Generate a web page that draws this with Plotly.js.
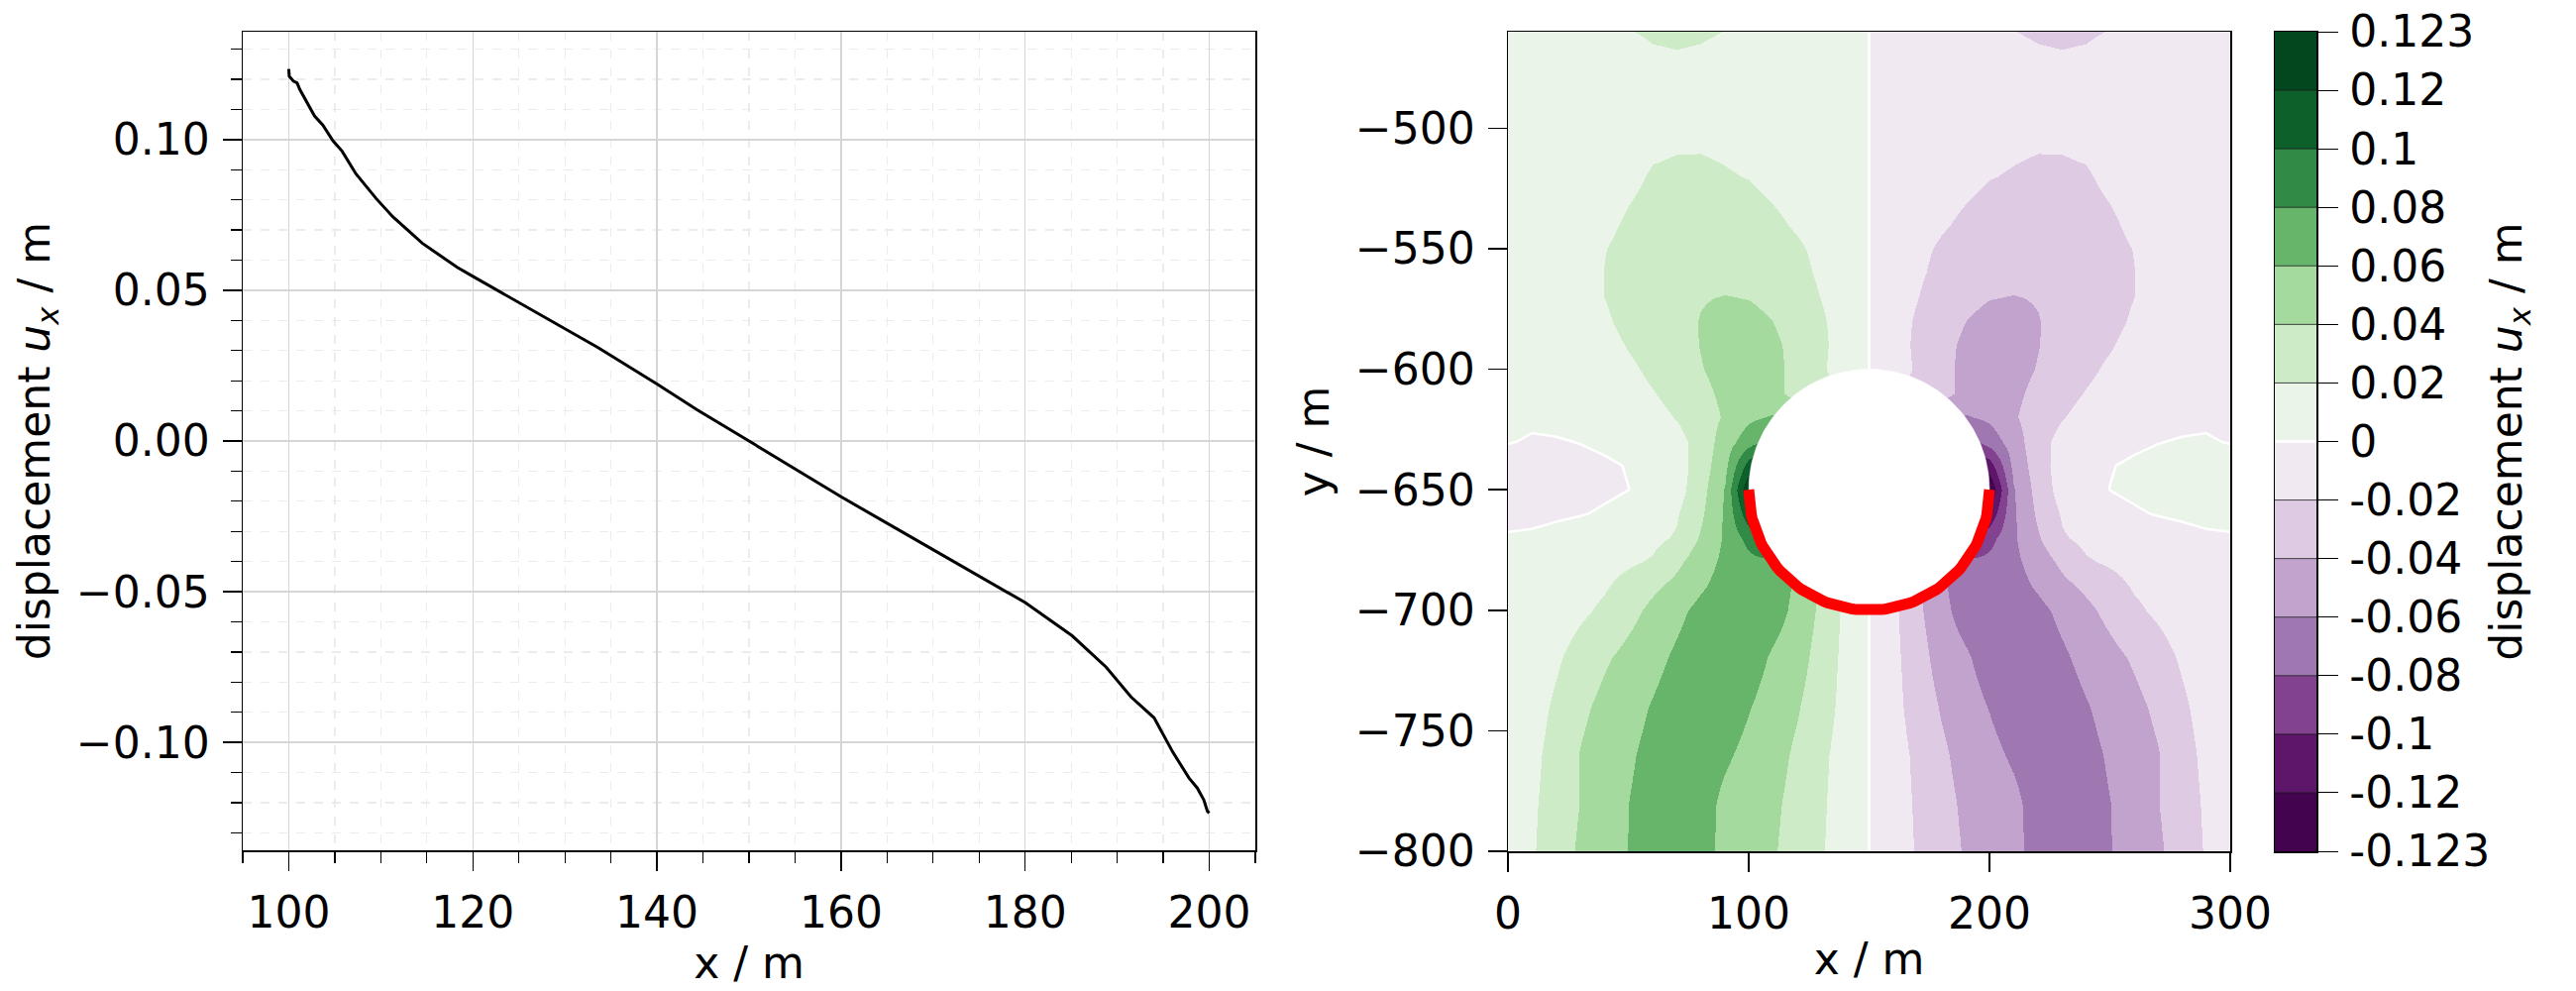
<!DOCTYPE html>
<html><head><meta charset="utf-8">
<script src="https://cdn.plot.ly/plotly-3.0.1.min.js"></script>
<style>html,body{margin:0;padding:0;background:#fff}</style>
</head><body><div id="chart" style="width:2600px;height:1000px"></div>
<script>
// ---- left panel: displacement along the tunnel floor ----
const lineX = [100, 100.05, 100.5, 100.9, 101.2, 101.8, 102.8, 103.7, 104.8, 105.8, 107.3, 109.5, 111.3, 114.5, 118.3, 120, 122.8, 127.8, 133.6, 140, 144.4, 150, 155, 160, 166.1, 170, 177.9, 180, 185.1, 188.8, 191.5, 194, 196, 197.8, 198.7, 199.4, 199.8, 200];
const lineUx = [0.1234, 0.121, 0.1194, 0.1188, 0.1166, 0.1133, 0.1078, 0.1048, 0.0996, 0.0961, 0.0886, 0.0804, 0.0744, 0.0656, 0.0576, 0.0546, 0.0497, 0.0409, 0.031, 0.0189, 0.0103, 0.0, -0.0092, -0.0185, -0.0292, -0.036, -0.0497, -0.0536, -0.0646, -0.075, -0.0849, -0.0918, -0.103, -0.1118, -0.1151, -0.119, -0.1228, -0.1234];

// ---- right panel: displacement field u_x(x, y) ----
const gridX = [0,10,20,30,40,50,60,70,80,90,100,110,120,130,140,150,160,170,180,190,200,210,220,230,240,250,260,270,280,290,300];
const gridY = [-800,-780,-760,-740,-720,-700,-690,-680,-670,-660,-650,-640,-630,-620,-610,-600,-590,-580,-570,-560,-550,-540,-520,-500,-480,-460];
const gridUx = [
[0.005,0.018,0.031,0.043,0.052,0.0605,0.068,0.072,0.068,0.054,0.048,0.0418,0.032,0.0215,0.011,0,-0.011,-0.0215,-0.032,-0.0418,-0.048,-0.054,-0.068,-0.072,-0.068,-0.0605,-0.052,-0.043,-0.031,-0.018,-0.005],
[0.005,0.017,0.029,0.0405,0.051,0.0601,0.068,0.073,0.069,0.055,0.049,0.0435,0.034,0.0225,0.0115,0,-0.0115,-0.0225,-0.034,-0.0435,-0.049,-0.055,-0.069,-0.073,-0.068,-0.0601,-0.051,-0.0405,-0.029,-0.017,-0.005],
[0.004,0.015,0.0275,0.041,0.05,0.0575,0.066,0.072,0.072,0.063,0.054,0.047,0.0365,0.024,0.012,0,-0.012,-0.024,-0.0365,-0.047,-0.054,-0.063,-0.072,-0.072,-0.066,-0.0575,-0.05,-0.041,-0.0275,-0.015,-0.004],
[0.003,0.012,0.0235,0.036,0.045,0.053,0.0615,0.07,0.075,0.072,0.061,0.051,0.0415,0.0285,0.014,0,-0.014,-0.0285,-0.0415,-0.051,-0.061,-0.072,-0.075,-0.07,-0.0615,-0.053,-0.045,-0.036,-0.0235,-0.012,-0.003],
[0.002,0.009,0.0175,0.028,0.0375,0.046,0.054,0.0635,0.072,0.076,0.07,0.057,0.048,0.0315,0.015,0,-0.015,-0.0315,-0.048,-0.057,-0.07,-0.076,-0.072,-0.0635,-0.054,-0.046,-0.0375,-0.028,-0.0175,-0.009,-0.002],
[0.002,0.005,0.01,0.0165,0.0235,0.034,0.045,0.055,0.0655,0.073,0.076,0.069,0.054,0.0355,0.016,0,-0.016,-0.0355,-0.054,-0.069,-0.076,-0.073,-0.0655,-0.055,-0.045,-0.034,-0.0235,-0.0165,-0.01,-0.005,-0.002],
[0.001,0.004,0.008,0.013,0.018,0.0265,0.036,0.0455,0.057,0.068,0.077,0.072,0.056,0.035,0.017,0,-0.017,-0.035,-0.056,-0.072,-0.077,-0.068,-0.057,-0.0455,-0.036,-0.0265,-0.018,-0.013,-0.008,-0.004,-0.001],
[0.001,0.002,0.005,0.009,0.0135,0.0175,0.022,0.0355,0.051,0.0645,0.074,0.075,0.056,0.036,0.018,0,-0.018,-0.036,-0.056,-0.075,-0.074,-0.0645,-0.051,-0.0355,-0.022,-0.0175,-0.0135,-0.009,-0.005,-0.002,-0.001],
[0.001,0.0015,0.003,0.005,0.008,0.011,0.0155,0.022,0.042,0.063,0.087,0.115,0.065,0.037,0.018,0,-0.018,-0.037,-0.065,-0.115,-0.087,-0.063,-0.042,-0.022,-0.0155,-0.011,-0.008,-0.005,-0.003,-0.0015,-0.001],
[-0.003,-0.0025,-0.0015,-0.0005,0.001,0.0045,0.009,0.018,0.036,0.063,0.115,0.135,0.08,0.045,0.02,0,-0.02,-0.045,-0.08,-0.135,-0.115,-0.063,-0.036,-0.018,-0.009,-0.0045,-0.001,0.0005,0.0015,0.0025,0.003],
[-0.005,-0.0045,-0.004,-0.003,-0.0015,-0.0001,0.004,0.012,0.032,0.0615,0.1234,0.14,0.1,0.06,0.03,0,-0.03,-0.06,-0.1,-0.14,-0.1234,-0.0615,-0.032,-0.012,-0.004,0.0001,0.0015,0.003,0.004,0.0045,0.005],
[-0.0045,-0.004,-0.0035,-0.0025,-0.0015,0.0005,0.0045,0.011,0.029,0.055,0.11,0.135,0.095,0.06,0.03,0,-0.03,-0.06,-0.095,-0.135,-0.11,-0.055,-0.029,-0.011,-0.0045,-0.0005,0.0015,0.0025,0.0035,0.004,0.0045],
[0.0005,-0.0008,-0.0006,0.0003,0.002,0.004,0.0075,0.0135,0.027,0.05,0.072,0.09,0.07,0.05,0.025,0,-0.025,-0.05,-0.07,-0.09,-0.072,-0.05,-0.027,-0.0135,-0.0075,-0.004,-0.002,-0.0003,0.0006,0.0008,-0.0005],
[0.001,0.0015,0.0025,0.004,0.006,0.009,0.0135,0.021,0.031,0.042,0.056,0.062,0.05,0.04,0.02,0,-0.02,-0.04,-0.05,-0.062,-0.056,-0.042,-0.031,-0.021,-0.0135,-0.009,-0.006,-0.004,-0.0025,-0.0015,-0.001],
[0.0015,0.002,0.003,0.005,0.008,0.0125,0.019,0.0265,0.035,0.044,0.049,0.044,0.035,0.03,0.015,0,-0.015,-0.03,-0.035,-0.044,-0.049,-0.044,-0.035,-0.0265,-0.019,-0.0125,-0.008,-0.005,-0.003,-0.002,-0.0015],
[0.002,0.0025,0.004,0.0065,0.011,0.0165,0.024,0.031,0.039,0.046,0.049,0.0445,0.035,0.0225,0.011,0,-0.011,-0.0225,-0.035,-0.0445,-0.049,-0.046,-0.039,-0.031,-0.024,-0.0165,-0.011,-0.0065,-0.004,-0.0025,-0.002],
[0.002,0.003,0.005,0.008,0.013,0.0215,0.0275,0.034,0.0405,0.046,0.048,0.0435,0.0345,0.0235,0.012,0,-0.012,-0.0235,-0.0345,-0.0435,-0.048,-0.046,-0.0405,-0.034,-0.0275,-0.0215,-0.013,-0.008,-0.005,-0.003,-0.002],
[0.002,0.003,0.006,0.01,0.017,0.026,0.031,0.0355,0.0405,0.0435,0.0445,0.04,0.032,0.0225,0.0115,0,-0.0115,-0.0225,-0.032,-0.04,-0.0445,-0.0435,-0.0405,-0.0355,-0.031,-0.026,-0.017,-0.01,-0.006,-0.003,-0.002],
[0.002,0.0035,0.007,0.0125,0.02,0.0275,0.0325,0.0355,0.0392,0.0405,0.0395,0.036,0.029,0.0195,0.01,0,-0.01,-0.0195,-0.029,-0.036,-0.0395,-0.0405,-0.0392,-0.0355,-0.0325,-0.0275,-0.02,-0.0125,-0.007,-0.0035,-0.002],
[0.002,0.0035,0.007,0.013,0.0202,0.026,0.0305,0.0335,0.035,0.0355,0.034,0.031,0.025,0.017,0.0085,0,-0.0085,-0.017,-0.025,-0.031,-0.034,-0.0355,-0.035,-0.0335,-0.0305,-0.026,-0.0202,-0.013,-0.007,-0.0035,-0.002],
[0.002,0.0035,0.0065,0.0115,0.0195,0.0245,0.0285,0.031,0.032,0.032,0.0305,0.0275,0.0225,0.0155,0.008,0,-0.008,-0.0155,-0.0225,-0.0275,-0.0305,-0.032,-0.032,-0.031,-0.0285,-0.0245,-0.0195,-0.0115,-0.0065,-0.0035,-0.002],
[0.002,0.003,0.006,0.01,0.0165,0.0225,0.026,0.028,0.029,0.0285,0.027,0.0235,0.018,0.012,0.006,0,-0.006,-0.012,-0.018,-0.0235,-0.027,-0.0285,-0.029,-0.028,-0.026,-0.0225,-0.0165,-0.01,-0.006,-0.003,-0.002],
[0.0015,0.0025,0.0045,0.007,0.011,0.0165,0.0215,0.0225,0.0225,0.021,0.0195,0.0155,0.011,0.007,0.0035,0,-0.0035,-0.007,-0.011,-0.0155,-0.0195,-0.021,-0.0225,-0.0225,-0.0215,-0.0165,-0.011,-0.007,-0.0045,-0.0025,-0.0015],
[0.0015,0.002,0.004,0.006,0.009,0.0125,0.0155,0.017,0.0172,0.0165,0.015,0.0125,0.0095,0.0063,0.0032,0,-0.0032,-0.0063,-0.0095,-0.0125,-0.015,-0.0165,-0.0172,-0.017,-0.0155,-0.0125,-0.009,-0.006,-0.004,-0.002,-0.0015],
[0.0015,0.002,0.0035,0.0055,0.0085,0.012,0.0155,0.0165,0.0162,0.0148,0.0125,0.0095,0.007,0.0045,0.0022,0,-0.0022,-0.0045,-0.007,-0.0095,-0.0125,-0.0148,-0.0162,-0.0165,-0.0155,-0.012,-0.0085,-0.0055,-0.0035,-0.002,-0.0015],
[0.0015,0.002,0.0035,0.006,0.012,0.0195,0.0215,0.022,0.0212,0.0198,0.015,0.0105,0.007,0.0045,0.0022,0,-0.0022,-0.0045,-0.007,-0.0105,-0.015,-0.0198,-0.0212,-0.022,-0.0215,-0.0195,-0.012,-0.006,-0.0035,-0.002,-0.0015]
];

// contour levels and band colours (PRGn), bottom to top
const levels = [-0.123, -0.12, -0.1, -0.08, -0.06, -0.04, -0.02, 0, 0.02, 0.04, 0.06, 0.08, 0.1, 0.12, 0.123];
const levelLabels = ['-0.123','-0.12','-0.1','-0.08','-0.06','-0.04','-0.02','0','0.02','0.04','0.06','0.08','0.1','0.12','0.123'];
const bandColors = ['#43034e','#5d1669','#82428f','#9f78b1','#c1a3ce','#dfcae3','#f1e9f1','#ebf4e8','#ceebc8','#a4da9e','#66b56b','#318a45','#0e602a','#02471d'];

// tunnel geometry
const tunnelCenterX = 150, tunnelCenterY = -650, tunnelRadius = 50;

// tick labels
const leftXTicks = [100, 120, 140, 160, 180, 200];
const leftYTickVals = [-0.10, -0.05, 0.00, 0.05, 0.10];
const leftYTickText = ['\u22120.10', '\u22120.05', '0.00', '0.05', '0.10'];
const rightXTicks = [0, 100, 200, 300];
const rightYTickVals = [-800, -750, -700, -650, -600, -550, -500];
const rightYTickText = ['\u2212800', '\u2212750', '\u2212700', '\u2212650', '\u2212600', '\u2212550', '\u2212500'];

// ---- build ----
const nb = bandColors.length;
function toBandIndex(v) {
  if (v <= levels[0]) return 0;
  if (v >= levels[nb]) return nb;
  for (let i = 0; i < nb; i++) {
    if (v >= levels[i] && v <= levels[i + 1]) return i + (v - levels[i]) / (levels[i + 1] - levels[i]);
  }
  return nb;
}
const gridIdx = gridUx.map(r => r.map(toBandIndex));
const stepScale = [];
bandColors.forEach((c, k) => { stepScale.push([k / nb, c]); stepScale.push([(k + 1) / nb, c]); });
const zeroIdx = levels.indexOf(0);

const circX = [], circY = [], arcX = [], arcY = [];
for (let a = 0; a <= 360; a += 2) {
  const t = a * Math.PI / 180;
  circX.push(tunnelCenterX + tunnelRadius * Math.cos(t));
  circY.push(tunnelCenterY + tunnelRadius * Math.sin(t));
}
for (let a = 180; a <= 360; a += 2) {
  const t = a * Math.PI / 180;
  arcX.push(tunnelCenterX + tunnelRadius * Math.cos(t));
  arcY.push(tunnelCenterY + tunnelRadius * Math.sin(t));
}

const FONT = 'DejaVu Sans';
const FS = 44;
const uxTitle = 'displacement <i>u<sub>x</sub></i> / m';

const traces = [
  {type: 'scatter', mode: 'lines', x: lineX, y: lineUx, xaxis: 'x', yaxis: 'y',
   line: {color: 'black', width: 3}, hoverinfo: 'skip', showlegend: false},
  {type: 'contour', x: gridX, y: gridY, z: gridIdx, xaxis: 'x2', yaxis: 'y2',
   autocontour: false, contours: {start: 1, end: nb - 1, size: 1, coloring: 'heatmap', showlines: false},
   line: {width: 0}, colorscale: stepScale, zmin: 0, zmax: nb, zauto: false,
   showscale: false, hoverinfo: 'skip'},
  {type: 'contour', x: gridX, y: gridY, z: gridIdx, xaxis: 'x2', yaxis: 'y2',
   autocontour: false, contours: {start: zeroIdx, end: zeroIdx, size: 1, coloring: 'none'},
   line: {color: 'white', width: 2.5, smoothing: 0}, showscale: false, hoverinfo: 'skip'},
  {type: 'scatter', mode: 'lines', x: circX, y: circY, xaxis: 'x2', yaxis: 'y2', fill: 'toself',
   fillcolor: 'white', line: {color: 'white', width: 0.5}, hoverinfo: 'skip', showlegend: false},
  {type: 'scatter', mode: 'lines', x: arcX, y: arcY, xaxis: 'x2', yaxis: 'y2',
   line: {color: '#ff0000', width: 11}, hoverinfo: 'skip', showlegend: false},
  // colour key (one cell per contour band)
  {type: 'heatmap', x0: 0.5, dx: 1, y0: 0.5, dy: 1, z: bandColors.map((_, k) => [k + 0.5]),
   xaxis: 'x3', yaxis: 'y3', colorscale: stepScale, zmin: 0, zmax: nb, zauto: false,
   showscale: false, hoverinfo: 'skip'}
];

const axisCommon = {
  showline: true, mirror: true, linecolor: 'black', linewidth: 1.5,
  ticks: 'outside', ticklen: 19, tickwidth: 1.5, tickcolor: 'black',
  tickfont: {family: FONT, size: FS, color: 'black'}, zeroline: false, automargin: false
};

const shapes = [];
for (let k = 1; k < nb; k++) {
  const isZero = k === zeroIdx;
  shapes.push({type: 'line', xref: 'x3', yref: 'y3', x0: 0, x1: 1, y0: k, y1: k, layer: 'above',
               line: {color: isZero ? 'white' : '#1a1a1a', width: isZero ? 3 : 0.8}});
}

const layout = {
  width: 2600, height: 1000, margin: {l: 0, r: 0, t: 0, b: 0},
  paper_bgcolor: 'white', plot_bgcolor: 'white', showlegend: false,
  font: {family: FONT, size: FS, color: 'black'},
  shapes: shapes,
  xaxis: Object.assign({}, axisCommon, {
    domain: [245 / 2600, 1267 / 2600], range: [95, 205],
    tickmode: 'array', tickvals: leftXTicks,
    showgrid: true, gridcolor: '#d5d5d5', gridwidth: 1.5,
    minor: {tickmode: 'linear', tick0: 0, dtick: 5, ticks: 'outside', ticklen: 11, tickwidth: 1.2, tickcolor: 'black',
            showgrid: true, gridcolor: '#ececec', griddash: 'dash', gridwidth: 1.2},
    ticklabelstandoff: 5,
    title: {text: 'x / m', font: {family: FONT, size: FS}, standoff: 6}
  }),
  yaxis: Object.assign({}, axisCommon, {
    domain: [0.142, 0.968], range: [-0.13575, 0.13575],
    tickmode: 'array', tickvals: leftYTickVals, ticktext: leftYTickText,
    showgrid: true, gridcolor: '#d5d5d5', gridwidth: 1.5,
    minor: {tickmode: 'linear', tick0: 0, dtick: 0.01, ticks: 'outside', ticklen: 11, tickwidth: 1.2, tickcolor: 'black',
            showgrid: true, gridcolor: '#ececec', griddash: 'dash', gridwidth: 1.2},
    ticklabelstandoff: 4,
    title: {text: uxTitle, font: {family: FONT, size: FS}, standoff: 12}
  }),
  xaxis2: Object.assign({}, axisCommon, {
    domain: [1522 / 2600, 2251 / 2600], range: [0, 300], anchor: 'y2',
    tickmode: 'array', tickvals: rightXTicks, showgrid: false,
    ticklabelstandoff: 5,
    title: {text: 'x / m', font: {family: FONT, size: FS}, standoff: 6}
  }),
  yaxis2: Object.assign({}, axisCommon, {
    domain: [0.141, 0.968], range: [-800, -460], anchor: 'x2',
    tickmode: 'array', tickvals: rightYTickVals, ticktext: rightYTickText, showgrid: false,
    ticklabelstandoff: 4,
    title: {text: 'y / m', font: {family: FONT, size: FS}, standoff: 12}
  }),
  xaxis3: {domain: [2296 / 2600, 2338 / 2600], range: [0, 1], anchor: 'y3',
    showline: true, mirror: true, linecolor: 'black', linewidth: 1.5,
    showticklabels: false, ticks: '', showgrid: false, zeroline: false, automargin: false},
  yaxis3: {domain: [0.141, 0.968], range: [0, nb], anchor: 'x3', side: 'right',
    showline: true, mirror: true, linecolor: 'black', linewidth: 1.5,
    tickmode: 'array', tickvals: levels.map((_, i) => i), ticktext: levelLabels,
    ticks: 'outside', ticklen: 20, tickwidth: 1, tickcolor: 'black',
    tickfont: {family: FONT, size: FS, color: 'black'}, ticklabelstandoff: 3,
    showgrid: false, zeroline: false, automargin: false,
    title: {text: uxTitle, font: {family: FONT, size: FS}, standoff: 2}}
};

Plotly.newPlot('chart', traces, layout, {displayModeBar: false, staticPlot: true});
</script>
</body></html>
